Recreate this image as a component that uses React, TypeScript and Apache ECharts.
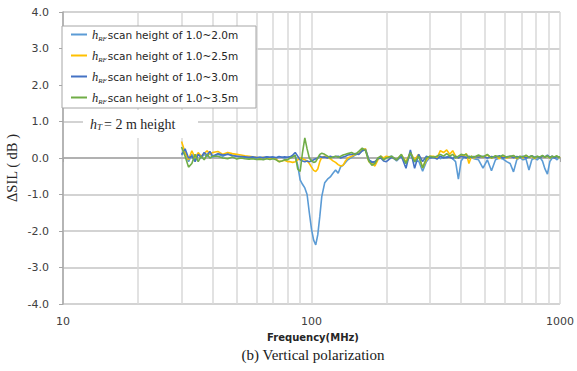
import React, { useEffect, useRef } from "react";
import * as echarts from "echarts";

const freqMHz = [
  30, 31, 32, 33, 34, 35, 36, 37, 38, 39,
  40, 42, 44, 46, 48, 50, 52, 54, 56, 58,
  60, 62, 64, 66, 68, 70, 72, 74, 76, 78,
  80, 82, 84, 86, 88, 90, 92, 94, 96, 98,
  100, 102, 104, 106, 108, 110, 113, 116, 119, 122,
  125, 128, 131, 134, 137, 140, 145, 150, 155, 160,
  165, 170, 175, 180, 185, 190, 195, 200, 210, 220,
  230, 240, 250, 260, 270, 280, 290, 300, 310, 320,
  330, 340, 350, 360, 370, 380, 390, 400, 410, 420,
  430, 440, 450, 470, 490, 510, 530, 550, 570, 590,
  610, 630, 650, 670, 690, 710, 730, 750, 770, 790,
  810, 830, 850, 870, 890, 910, 930, 950, 970, 990,
  1000,
];

const scan20 = [
  0.08, 0.18, -0.1, 0.1, -0.06, 0.12, 0.0, 0.1, 0.04, 0.14,
  0.02, 0.1, 0.05, 0.12, 0.08, 0.05, 0.03, 0.02, 0.0, 0.01,
  0.0, 0.02, 0.0, 0.03, 0.01, 0.02, 0.0, 0.03, 0.02, 0.0,
  0.02, 0.03, 0.05, 0.05, -0.2, -0.6, -0.72, -0.82, -1.0, -1.5,
  -1.95, -2.25, -2.38, -2.1, -1.6, -1.05, -0.68, -0.58, -0.52, -0.42,
  -0.33, -0.42, -0.24, -0.2, -0.12, -0.05, 0.02, 0.08, 0.12, 0.2,
  0.25, -0.05, -0.1, -0.15, -0.02, 0.05, -0.05, 0.02, 0.05, -0.08,
  0.05, -0.15, 0.1, -0.1, -0.08, -0.36, -0.1, 0.02, 0.0, 0.05,
  -0.02, 0.03, 0.0, 0.05, -0.02, -0.1, -0.58, -0.08, 0.02, 0.05,
  0.0, 0.03, -0.02, -0.05, -0.28, -0.05, -0.35, -0.05, 0.0, -0.03,
  -0.1, -0.15, -0.38, -0.05, 0.02, -0.05, -0.03, -0.33, -0.05, 0.0,
  -0.05, 0.02, -0.08, -0.3, -0.44, -0.1, 0.0, 0.03, -0.05, 0.0,
  0.02,
];

const scan25 = [
  0.45, 0.15, -0.05, 0.2, 0.0, 0.15, 0.05, 0.12, 0.2, 0.1,
  0.15, 0.18, 0.1, 0.15, 0.12, 0.1, 0.08, 0.06, 0.05, 0.03,
  0.02, 0.0, 0.02, 0.0, 0.01, 0.0, -0.03, -0.1, -0.08, -0.06,
  -0.1, -0.1, -0.12, -0.1, -0.05, 0.0, -0.02, -0.05, -0.08, -0.15,
  -0.25, -0.34, -0.37, -0.3, -0.1, 0.02, 0.05, 0.02, -0.02, -0.08,
  -0.12, -0.18, -0.22, -0.2, -0.08, 0.0, 0.05, 0.1, 0.12, 0.22,
  0.25, -0.1, -0.15, -0.22, -0.05, 0.05, 0.0, 0.05, 0.02, -0.05,
  0.08, -0.1, 0.15, -0.05, 0.1, -0.27, -0.05, 0.05, 0.05, 0.0,
  0.2, 0.15, 0.22, 0.1, 0.2, 0.05, 0.0, 0.08, 0.05, 0.12,
  -0.15, 0.05, 0.0, 0.05, 0.02, 0.08, 0.0, 0.05, -0.02, 0.06,
  0.0, 0.03, 0.05, -0.02, 0.04, 0.0, 0.06, 0.02, 0.05, -0.02,
  0.04, 0.0, 0.05, 0.02, 0.06, 0.0, 0.04, 0.02, 0.05, 0.0,
  0.03,
];

const scan30 = [
  0.1, 0.25, 0.0, 0.05, -0.1, 0.1, 0.02, 0.15, 0.08, 0.18,
  0.05, 0.12, 0.08, 0.1, 0.06, 0.05, 0.04, 0.03, 0.02, 0.03,
  0.01, 0.02, 0.01, 0.03, 0.02, 0.03, 0.01, 0.04, 0.02, 0.03,
  0.02, 0.03, 0.08, 0.15, 0.05, -0.05, -0.08, -0.1, -0.08, -0.1,
  -0.08, -0.05, -0.02, 0.0, 0.05, 0.02, 0.03, 0.0, 0.05, 0.02,
  0.04, 0.05, 0.0, 0.03, 0.05, 0.08, 0.1, 0.12, 0.1, 0.2,
  0.22, -0.05, -0.12, -0.1, -0.02, 0.0, -0.08, -0.1, 0.02, -0.05,
  0.05, -0.28, 0.22, -0.28, 0.1, -0.1, 0.05, 0.0, 0.02, -0.03,
  0.05, 0.0, 0.03, 0.02, -0.02, 0.05, 0.0, 0.05, 0.03, 0.0,
  0.05, 0.02, 0.04, 0.02, 0.05, 0.0, 0.04, 0.02, 0.06, 0.0,
  0.03, 0.05, 0.01, 0.04, 0.02, 0.05, 0.0, 0.03, 0.06, 0.02,
  0.04, 0.0, 0.05, 0.03, 0.08, 0.02, 0.05, 0.0, 0.04, 0.02,
  0.03,
];

const scan35 = [
  0.3, 0.05, -0.25, -0.15, 0.1, -0.1, 0.05, -0.05, 0.1, 0.0,
  0.05, 0.05, 0.0, -0.02, 0.03, -0.03, 0.0, -0.02, -0.03, -0.02,
  -0.04, -0.03, -0.05, -0.02, -0.04, -0.02, -0.05, -0.1, -0.08, -0.05,
  -0.05, 0.0, 0.03, 0.08, -0.3, -0.37, 0.15, 0.55, 0.25, 0.0,
  -0.08, -0.12, -0.1, 0.0, 0.1, 0.13, 0.1, 0.05, 0.0, 0.03,
  0.05, 0.02, 0.05, 0.08, 0.1, 0.12, 0.15, 0.1, 0.18, 0.27,
  0.2, -0.08, -0.2, -0.15, 0.0, 0.05, -0.05, 0.0, 0.05, -0.05,
  0.1, -0.15, 0.15, -0.1, 0.05, -0.27, 0.0, 0.05, 0.02, 0.05,
  0.1, 0.05, 0.12, 0.05, 0.1, 0.0, 0.05, 0.1, 0.08, 0.1,
  0.0, 0.05, 0.02, 0.08, 0.03, 0.1, 0.0, 0.06, 0.03, 0.08,
  0.02, 0.05, 0.07, 0.0, 0.05, 0.03, 0.08, 0.02, 0.06, 0.0,
  0.05, 0.03, 0.07, 0.02, 0.06, 0.0, 0.05, 0.03, 0.06, 0.02,
  0.04,
];

const seriesNames = ["1.0~2.0m", "1.0~2.5m", "1.0~3.0m", "1.0~3.5m"];
const seriesValues = [scan20, scan25, scan30, scan35];
const seriesColors = ["#5B9BD5", "#FFC000", "#4472C4", "#70AD47"];

const xAxisTitle = "Frequency(MHz)";
const yAxisTitle = "ΔSIL ( dB )";
const caption = "(b) Vertical polarization";

const SANS = "DejaVu Sans";
const SERIF = "Liberation Serif";

export default function App() {
  const ref = useRef<HTMLDivElement>(null);

  useEffect(() => {
    if (!ref.current) return;
    const chart = echarts.init(ref.current, undefined, { renderer: "svg" });

    const option: any = {
      animation: false,
      backgroundColor: "#ffffff",
      grid: { left: 63, right: 14, top: 12, bottom: 67 },
      xAxis: {
        type: "log",
        logBase: 10,
        min: 10,
        max: 1000,
        axisLine: { show: true, lineStyle: { color: "#a6a6a6", width: 1.5 } },
        axisTick: { show: true, length: 4, lineStyle: { color: "#a6a6a6" } },
        axisLabel: {
          formatter: (v: number) => String(Math.round(v)),
          fontFamily: SANS,
          fontSize: 11,
          color: "#404040",
          margin: 12,
        },
        splitLine: { show: true, lineStyle: { color: "#d9d9d9", width: 1.5 } },
        minorTick: { show: false, splitNumber: 9 },
        minorSplitLine: { show: true, lineStyle: { color: "#d9d9d9", width: 1.5 } },
      },
      yAxis: {
        type: "value",
        min: -4,
        max: 4,
        interval: 1,
        axisLine: { show: true, lineStyle: { color: "#a6a6a6", width: 1.5 } },
        axisTick: { show: true, length: 4, lineStyle: { color: "#a6a6a6" } },
        axisLabel: {
          formatter: (v: number) => v.toFixed(1),
          fontFamily: SANS,
          fontSize: 11,
          color: "#404040",
          margin: 14,
        },
        splitLine: { show: true, lineStyle: { color: "#c4c4c4", width: 1.5 } },
      },
      legend: {
        orient: "vertical",
        left: 71,
        top: 27,
        padding: 0,
        itemGap: 6,
        itemWidth: 16,
        itemHeight: 2,
        icon: "rect",
        z: 20,
        data: seriesNames,
        formatter: (name: string) => `{i|h}{s|RF}{t|scan height of ${name}}`,
        textStyle: {
          fontFamily: SANS,
          fontSize: 10.5,
          color: "#262626",
          lineHeight: 15,
          rich: {
            i: { fontFamily: SERIF, fontStyle: "italic", fontSize: 12.5, color: "#262626", lineHeight: 15 },
            s: {
              fontFamily: SERIF,
              fontStyle: "italic",
              fontSize: 7,
              color: "#262626",
              verticalAlign: "bottom",
              lineHeight: 15,
              padding: [5, 1, 0, 0],
            },
            t: { fontFamily: SANS, fontSize: 10.5, color: "#262626", lineHeight: 15 },
          },
        },
      },
      graphic: [
        {
          type: "rect",
          z: 10,
          shape: { x: 62, y: 26, width: 194, height: 82 },
          style: { fill: "#ffffff", stroke: "#a6a6a6", lineWidth: 1 },
        },
        {
          type: "rect",
          z: 10,
          shape: { x: 83, y: 110, width: 115, height: 28 },
          style: { fill: "#ffffff" },
        },
        {
          type: "text",
          z: 11,
          x: 90,
          y: 124,
          style: {
            text: "{i|h}{s|T}{n|= 2 m height}",
            verticalAlign: "middle",
            fill: "#262626",
            rich: {
              i: { fontFamily: SERIF, fontStyle: "italic", fontSize: 14, fill: "#262626" },
              s: {
                fontFamily: SERIF,
                fontStyle: "italic",
                fontSize: 9,
                fill: "#262626",
                verticalAlign: "bottom",
                padding: [6, 2, 0, 0],
              },
              n: { fontFamily: SERIF, fontSize: 14, fill: "#262626" },
            },
          },
        },
        {
          type: "text",
          z: 11,
          x: 12,
          y: 168,
          rotation: Math.PI / 2,
          style: {
            text: yAxisTitle,
            align: "center",
            verticalAlign: "middle",
            fontFamily: SERIF,
            fontSize: 14.5,
            fill: "#262626",
          },
        },
        {
          type: "text",
          z: 11,
          x: 313,
          y: 337,
          style: {
            text: xAxisTitle,
            align: "center",
            verticalAlign: "middle",
            fontFamily: SANS,
            fontWeight: "bold",
            fontSize: 10,
            fill: "#262626",
          },
        },
        {
          type: "text",
          z: 11,
          x: 313,
          y: 355,
          style: {
            text: caption,
            align: "center",
            verticalAlign: "middle",
            fontFamily: SERIF,
            fontSize: 15,
            fill: "#1a1a1a",
          },
        },
      ],
      series: seriesNames.map((name, k) => ({
        name,
        type: "line",
        symbol: "none",
        showSymbol: false,
        color: seriesColors[k],
        lineStyle: { color: seriesColors[k], width: 1.6 },
        data: freqMHz.map((f, i) => [f, seriesValues[k][i]]),
        z: 2 + k,
      })),
    };

    chart.setOption(option);
    return () => chart.dispose();
  }, []);

  return (
    <div
      ref={ref}
      style={{ position: "fixed", left: 0, top: 0, width: 577, height: 371, background: "#fff" }}
    />
  );
}
